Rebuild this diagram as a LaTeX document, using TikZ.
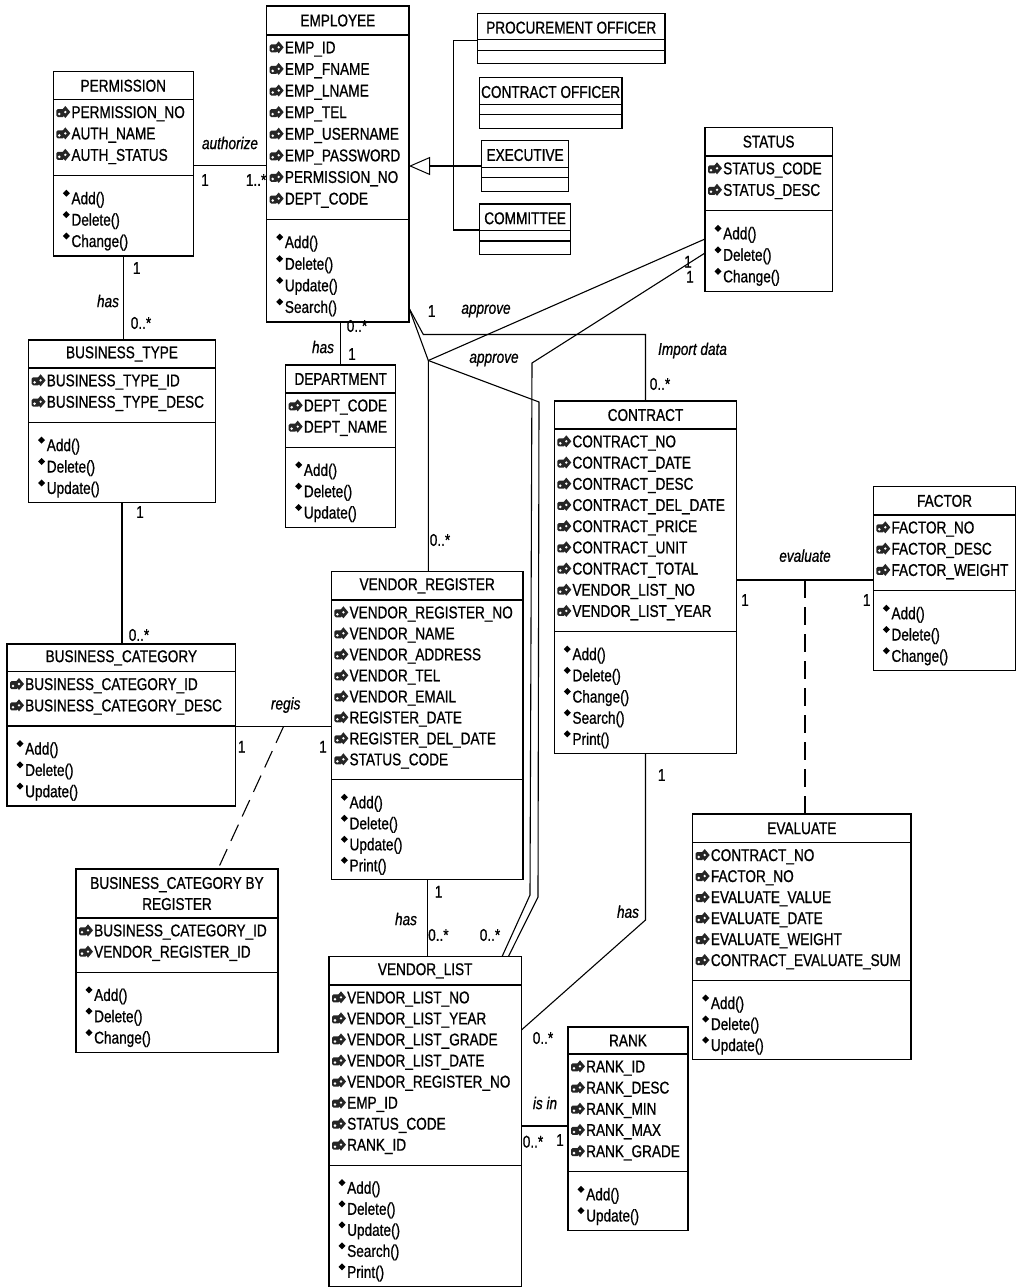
\documentclass[tikz,border=0pt]{standalone}
\usepackage{fontspec}
\setmainfont{Liberation Sans}[FakeStretch=0.8,FakeBold=0.8]
\usepackage{tikz}
\usetikzlibrary{arrows.meta}

\tikzset{
  classbox/.style={draw, line width=1.3pt, anchor=north west, inner sep=0pt, outer sep=0pt},
  titletext/.style={inner sep=0pt, align=center, font=\fontsize{17}{21}\selectfont},
  rowtext/.style={anchor=base west, inner sep=0pt, font=\fontsize{17}{20}\selectfont},
  lbl/.style={inner sep=0pt, font=\fontsize{17}{20}\selectfont\itshape},
  mult/.style={inner sep=0pt, font=\fontsize{17}{20}\selectfont},
  assoc/.style={line width=1.1pt},
  linkdash/.style={line width=1.1pt, dash pattern=on 18pt off 9pt},
}

% attribute icon, centred at (#1,#2)
\newcommand{\attricon}[2]{%
  \fill[black!85, rounded corners=1.5pt] (#1-7,#2-3) rectangle (#1+1,#2+5);
  \fill[black!85] (#1-3,#2) -- (#1+2,#2-6) -- (#1+7,#2) -- (#1+2,#2+6) -- cycle;
  \fill[white] (#1-4,#2+2) circle (1.4pt);
  \fill[white] (#1+2,#2) circle (1.3pt);
}

% #1 name, #2 x, #3 y, #4 width, #5 row pitch, #6 title height, #7 title, #8 attributes, #9 methods
\newcommand{\umlclass}[9]{%
  \foreach \rowitem [count=\i] in {#8} {\xdef\nattr{\i}}
  \foreach \rowitem [count=\i] in {#9} {\xdef\nmeth{\i}}
  \pgfmathsetmacro{\ya}{#3+#6}
  \pgfmathsetmacro{\yb}{\ya+\nattr*#5+11.8}
  \pgfmathsetmacro{\yc}{\yb+\nmeth*#5+16}
  \pgfmathsetmacro{\hh}{\yc-#3}
  \node[classbox, minimum width=#4pt, minimum height=\hh pt] (#1) at (#2,#3) {};
  \node[titletext] (#1-t) at (#2+#4/2,#3+#6/2) {#7};
  \draw[line width=1.3pt] (#2,\ya) -- ++(#4,0);
  \draw[line width=1.3pt] (#2,\yb) -- ++(#4,0);
  \foreach \rowitem [count=\i] in {#8} {
    \pgfmathsetmacro{\yy}{\ya+12.3+(\i-1)*#5}
    \attricon{#2+10}{\yy}
    \node[rowtext] (#1-a\i) at (#2+18,\yy+6) {\rowitem};
  }
  \foreach \rowitem [count=\i] in {#9} {
    \pgfmathsetmacro{\yy}{\yb+22.5+(\i-1)*#5}
    \fill (#2+13,\yy-8.5) -- ++(3.5,3.5) -- ++(-3.5,3.5) -- ++(-3.5,-3.5) -- cycle;
    \node[rowtext] (#1-m\i) at (#2+18,\yy+6) {\rowitem};
  }
}

% class with empty compartments
\newcommand{\umlempty}[5]{%
  \node[classbox, minimum width=#4pt, minimum height=50.5pt] (#1) at (#2,#3) {};
  \node[titletext] (#1-t) at (#2+#4/2,#3+14.3) {#5};
  \draw[line width=1.3pt] (#2,#3+26.5) -- ++(#4,0);
  \draw[line width=1.3pt] (#2,#3+37) -- ++(#4,0);
}

\begin{document}
\begin{tikzpicture}[x=1pt,y=-1pt]
\path[fill=white,use as bounding box] (0,0) rectangle (1017,1288);

% classes
\umlclass{employee}{266.7}{6}{142.3}{21.6}{29}{EMPLOYEE}
  {EMP\_ID,EMP\_FNAME,EMP\_LNAME,EMP\_TEL,EMP\_USERNAME,EMP\_PASSWORD,PERMISSION\_NO,DEPT\_CODE}
  {Add(),Delete(),Update(),Search()}
\umlclass{permission}{53.3}{71.7}{140}{21.4}{28}{PERMISSION}
  {PERMISSION\_NO,AUTH\_NAME,AUTH\_STATUS}
  {Add(),Delete(),Change()}
\umlclass{status}{705}{127.3}{127.3}{21.5}{28.7}{STATUS}
  {STATUS\_CODE,STATUS\_DESC}
  {Add(),Delete(),Change()}
\umlclass{btype}{28.6}{340}{186.8}{21.4}{28}{BUSINESS\_TYPE}
  {BUSINESS\_TYPE\_ID,BUSINESS\_TYPE\_DESC}
  {Add(),Delete(),Update()}
\umlclass{department}{285.7}{365}{110}{21.3}{28}{DEPARTMENT}
  {DEPT\_CODE,DEPT\_NAME}
  {Add(),Delete(),Update()}
\umlclass{bcat}{7}{644}{228.7}{21.3}{27.7}{BUSINESS\_CATEGORY}
  {BUSINESS\_CATEGORY\_ID,BUSINESS\_CATEGORY\_DESC}
  {Add(),Delete(),Update()}
\umlclass{vregister}{331.4}{571.7}{191.6}{21}{28.3}{VENDOR\_REGISTER}
  {VENDOR\_REGISTER\_NO,VENDOR\_NAME,VENDOR\_ADDRESS,VENDOR\_TEL,VENDOR\_EMAIL,REGISTER\_DATE,REGISTER\_DEL\_DATE,STATUS\_CODE}
  {Add(),Delete(),Update(),Print()}
\umlclass{vlist}{329}{956.7}{192.4}{21.05}{28.3}{VENDOR\_LIST}
  {VENDOR\_LIST\_NO,VENDOR\_LIST\_YEAR,VENDOR\_LIST\_GRADE,VENDOR\_LIST\_DATE,VENDOR\_REGISTER\_NO,EMP\_ID,STATUS\_CODE,RANK\_ID}
  {Add(),Delete(),Update(),Search(),Print()}
\umlclass{contract}{554.3}{401}{182.4}{21.2}{28}{CONTRACT}
  {CONTRACT\_NO,CONTRACT\_DATE,CONTRACT\_DESC,CONTRACT\_DEL\_DATE,CONTRACT\_PRICE,CONTRACT\_UNIT,CONTRACT\_TOTAL,VENDOR\_LIST\_NO,VENDOR\_LIST\_YEAR}
  {Add(),Delete(),Change(),Search(),Print()}
\umlclass{factor}{873.3}{486.7}{142.5}{21.3}{28.3}{FACTOR}
  {FACTOR\_NO,FACTOR\_DESC,FACTOR\_WEIGHT}
  {Add(),Delete(),Change()}
\umlclass{evaluate}{692.7}{814}{218.3}{21}{28.7}{EVALUATE}
  {CONTRACT\_NO,FACTOR\_NO,EVALUATE\_VALUE,EVALUATE\_DATE,EVALUATE\_WEIGHT,CONTRACT\_EVALUATE\_SUM}
  {Add(),Delete(),Update()}
\umlclass{rank}{568}{1027}{120}{21.2}{27}{RANK}
  {RANK\_ID,RANK\_DESC,RANK\_MIN,RANK\_MAX,RANK\_GRADE}
  {Add(),Update()}
\umlclass{bcbr}{76}{869}{202}{21.3}{49}{BUSINESS\_CATEGORY BY\\REGISTER}
  {BUSINESS\_CATEGORY\_ID,VENDOR\_REGISTER\_ID}
  {Add(),Delete(),Change()}

\umlempty{procure}{477.5}{13.3}{187.5}{PROCUREMENT OFFICER}
\umlempty{cofficer}{479.3}{77.7}{142.7}{CONTRACT OFFICER}
\umlempty{executive}{481.5}{140.7}{87.2}{EXECUTIVE}
\umlempty{committee}{479.7}{204}{90.8}{COMMITTEE}

% bend points
\coordinate (bustop) at (453.3,40.7);
\coordinate (busbot) at (453.3,230);
\coordinate (imp1) at (423.3,334.5);
\coordinate (imp2) at (645.5,334.5);
\coordinate (apj) at (428.3,360.5);
\coordinate (ap1) at (539,402);
\coordinate (ap2) at (538,897);
\coordinate (st1) at (532,363);
\coordinate (st2) at (530,895);
\coordinate (hasbend) at (645.5,920);

% generalization
\draw[assoc] (procure.west |- bustop) -- (bustop) -- (busbot) -- (committee.west |- busbot);
\draw[assoc,-{Triangle[open,length=21pt,width=18pt,line width=1pt]}] (executive.west |- 0,166) -- (employee.east |- 0,166);

% associations
\draw[assoc] (permission.east |- 0,165.7) -- (employee.west |- 0,165.7);
\draw[assoc] (permission.south) -- (permission.south |- btype.north);
\draw[assoc] (btype.south) -- (btype.south |- bcat.north);
\draw[assoc] (department.north) -- (department.north |- employee.south);
\draw[assoc] (bcat.east |- 0,726.5) -- coordinate[pos=0.5] (regismid) (vregister.west |- 0,726.5);
\draw[linkdash] (regismid) -- (bcbr.north -| 218,0);
\draw[assoc] (employee.east |- 0,308) -- (imp1) -- (imp2) -- (contract.north);
\draw[assoc] (employee.east |- 0,308) -- (apj) -- (ap1) -- (ap2) -- (vlist.north -| 508.3,0);
\draw[assoc] (status.west |- 0,239) -- (apj) -- (vregister.north -| apj);
\draw[assoc] (status.west |- 0,253) -- (st1) -- (st2) -- (vlist.north -| 502,0);
\draw[assoc] (vregister.south) -- (vregister.south |- vlist.north);
\draw[assoc] (contract.east |- 0,580) -- coordinate[pos=0.5] (evalmid) (factor.west |- 0,580);
\draw[linkdash] (evalmid) -- (evalmid |- evaluate.north);
\draw[assoc] (contract.south) -- (hasbend) -- (vlist.east |- 0,1030);
\draw[assoc] (vlist.east |- 0,1126) -- (rank.west |- 0,1126);

% labels and multiplicities
\node[lbl] (l-authorize) at (230,143) {authorize};
\node[mult] (m-perm1) at (205,180) {1};
\node[mult,anchor=east] (m-emp1) at (266.5,180) {1..*};
\node[mult] (m-perm2) at (136.7,268) {1};
\node[lbl] (l-has1) at (108,301) {has};
\node[mult] (m-bt1) at (141,323) {0..*};
\node[mult] (m-bt2) at (140,512) {1};
\node[mult] (m-bc1) at (139,635) {0..*};
\node[mult] (m-emp2) at (357,326) {0..*};
\node[lbl] (l-has2) at (323,347) {has};
\node[mult] (m-dept) at (352,354) {1};
\node[mult] (m-emp3) at (431.7,311) {1};
\node[lbl] (l-approve1) at (486,311) {approve};
\node[lbl] (l-approve2) at (494,360) {approve};
\node[lbl] (l-import) at (692.5,350.5) {Import data};
\node[mult] (m-con1) at (660,384) {0..*};
\node[mult] (m-st1) at (688,261.7) {1};
\node[mult] (m-st2) at (690,276.7) {1};
\node[mult] (m-vr1) at (440,540) {0..*};
\node[lbl] (l-regis) at (285.7,705) {regis};
\node[mult] (m-bc2) at (241.8,746.7) {1};
\node[mult] (m-vr2) at (323,746.7) {1};
\node[mult] (m-vr3) at (438.6,891.7) {1};
\node[lbl] (l-has3) at (406,919) {has};
\node[mult] (m-vl1) at (438.4,935) {0..*};
\node[mult] (m-vl2) at (490,935) {0..*};
\node[lbl] (l-evaluate) at (805,555.7) {evaluate};
\node[mult] (m-con2) at (745,600) {1};
\node[mult] (m-fac) at (866.7,600) {1};
\node[mult] (m-con3) at (661.7,775) {1};
\node[lbl] (l-has4) at (628,911.7) {has};
\node[mult] (m-vl3) at (543,1038) {0..*};
\node[lbl] (l-isin) at (545,1103) {is in};
\node[mult] (m-vl4) at (533,1141.7) {0..*};
\node[mult] (m-rank) at (560,1140) {1};
\end{tikzpicture}
\end{document}
